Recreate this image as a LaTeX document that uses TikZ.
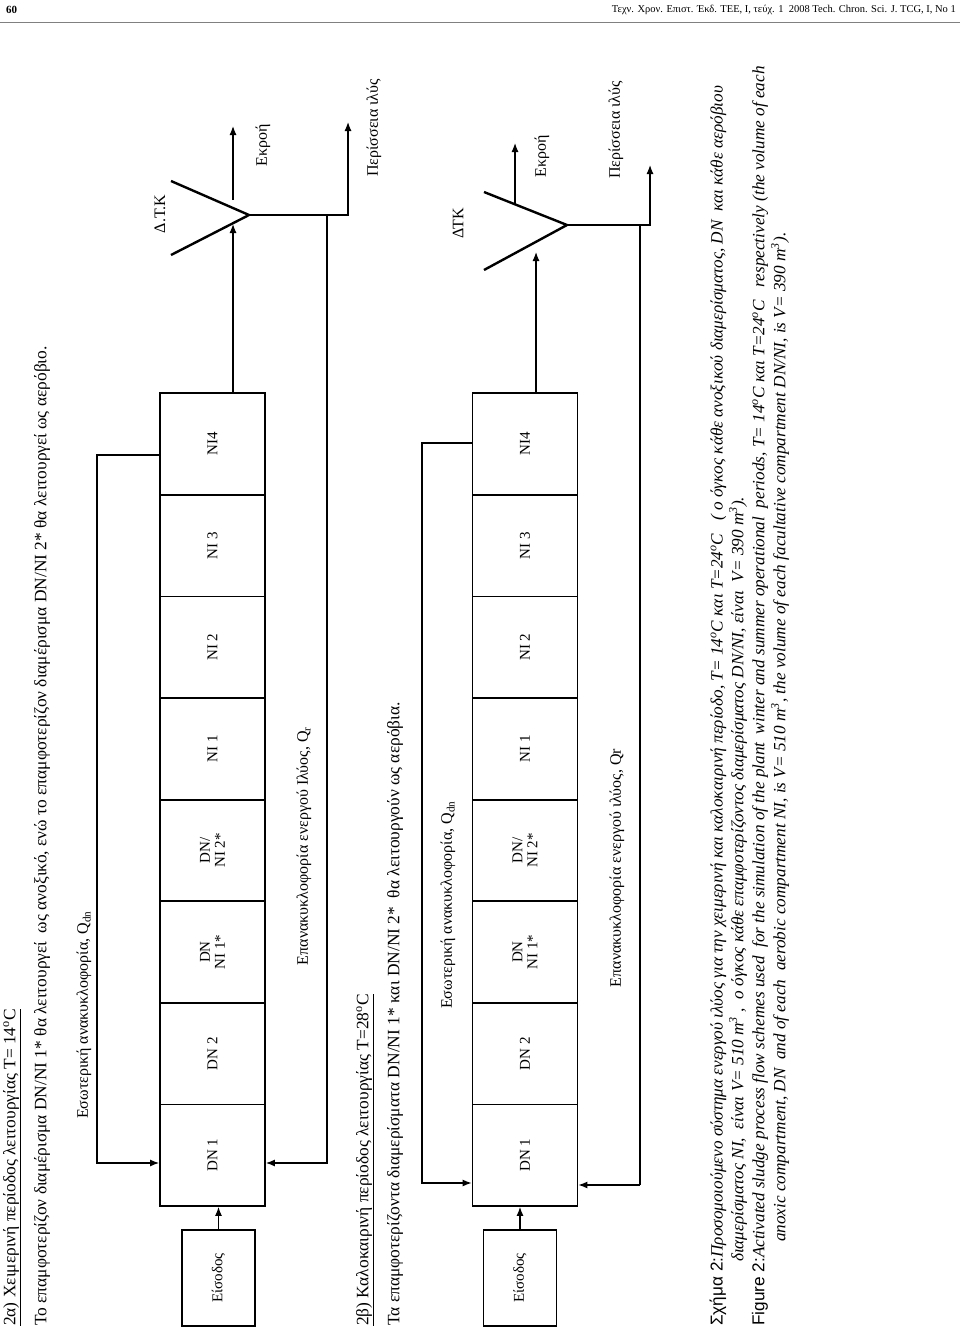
\documentclass[tikz,border=0pt]{standalone}
\usepackage{fontspec}
\setmainfont{Liberation Serif}
\newfontfamily\capsans{Liberation Sans}
\usepackage{tikz}
\usetikzlibrary{arrows.meta, positioning}

\begin{document}
\begin{tikzpicture}[
    x=1pt, y=-1pt,
    tank/.style={rectangle, draw, line width=1.8pt, rotate=90, minimum width=101.6pt, minimum height=105pt, inner sep=0pt, align=center, font=\fontsize{15}{15}\selectfont},
    feed/.style={rectangle, draw, line width=1.8pt, rotate=90, minimum width=96pt, minimum height=73pt, inner sep=0pt, font=\fontsize{15}{15}\selectfont},
    label/.style={rotate=90, inner sep=0pt, font=\fontsize{16}{16}\selectfont},
    head/.style={rotate=90, anchor=west, inner sep=0pt, font=\fontsize{17.4}{17.4}\selectfont},
    capt/.style={rotate=90, anchor=west, inner sep=0pt, font=\fontsize{17.2}{17.2}\selectfont\itshape},
    arrow/.style={-{Latex[length=9pt,width=7pt]}, line width=1.2pt},
    flow/.style={line width=1.2pt},
    weir/.style={line width=2.4pt}
]
    \useasboundingbox (0,0) rectangle (960,1331);

    % Page header
    \node[anchor=west, inner sep=0pt, font=\fontsize{11}{11}\selectfont\bfseries] (pnum) at (6,10) {60};
    \node[anchor=east, inner sep=0pt, font=\fontsize{10.5}{10.5}\selectfont] (pref) at (956,10)
        {Τεχν. Χρον. Επιστ. Έκδ. ΤΕΕ, Ι, τεύχ. 1\enspace 2008 Tech. Chron. Sci. J. TCG, I, No 1};
    \draw[gray, line width=1pt] (0,22) -- (960,22);

    % Scheme a: winter
    \node[head] (ta) at (12,1326) {\underline{2α) Χειμερινή περίοδος λειτουργίας T= 14\textsuperscript{o}C}};
    \node[head] (sa) at (42,1326) {Το επαμφοτερίζον διαμέρισμα DN/NI 1* θα λειτουργεί\ \ ως ανοξικό, ενώ το επαμφοτερίζον διαμέρισμα DN/NI 2* θα λειτουργεί ως αερόβιο.};
    \node[feed] (ina) at (218.5,1278) {Είσοδος};
    \foreach \lab [count=\i] in {DN 1, DN 2, {DN\\NI 1*}, {DN/\\NI 2*}, NI 1, NI 2, NI 3, NI4}
        \node[tank] (a\i) at (212.5,{1206-101.6*(\i-0.5)}) {\lab};
    \draw[arrow] (ina.east) -- (ina.east |- a1.west);
    % internal recirculation
    \coordinate (qa1) at (97,455);
    \coordinate (qa2) at (97,1163);
    \draw[arrow] (a8.north |- qa1) -- (qa1) -- (qa2) -- (a1.north |- qa2);
    \node[label] (lqa) at (84,1015) {Εσωτερική ανακυκλοφορία, Q\textsubscript{dn}};
    % clarifier
    \coordinate (va) at (249,215);
    \draw[weir] (171,181) -- (va) -- (171,255);
    \node[label] (dtka) at (160,214) {Δ.Τ.Κ};
    \draw[arrow] (a8.east -| 233,0) -- (233,224);
    \draw[arrow] (233,200) -- (233,126);
    \node[label] (effa) at (263,145) {Εκροή};
    \coordinate (wa) at (348,215);
    \draw[arrow] (va) -- (wa) -- (348,122);
    \node[label] (exa) at (374,128) {Περίσσεια ιλύς};
    \coordinate (ra1) at (327,215);
    \coordinate (ra2) at (327,1163);
    \draw[arrow] (ra1) -- (ra2) -- (a1.south |- ra2);
    \node[label] (lra) at (304,846) {Επανακυκλοφορία ενεργού Ιλύος, Q\textsubscript{r}};

    % Scheme b: summer
    \node[head] (tb) at (365,1326) {\underline{2β) Καλοκαιρινή περίοδος λειτουργίας T=28\textsuperscript{o}C}};
    \node[head] (sb) at (395,1326) {Τα επαμφοτερίζοντα διαμερίσματα DN/NI 1* και DN/NI 2*\ \ θα λειτουργούν ως αερόβια.};
    \node[feed] (inb) at (520,1278) {Είσοδος};
    \foreach \lab [count=\i] in {DN 1, DN 2, {DN\\NI 1*}, {DN/\\NI 2*}, NI 1, NI 2, NI 3, NI4}
        \node[tank] (b\i) at (525,{1206-101.6*(\i-0.5)}) {\lab};
    \draw[arrow] (inb.east) -- (inb.east |- b1.west);
    % internal recirculation
    \coordinate (qb1) at (422,443);
    \coordinate (qb2) at (422,1183);
    \draw[arrow] (b8.north |- qb1) -- (qb1) -- (qb2) -- (b1.north |- qb2);
    \node[label] (lqb) at (448,905) {Εσωτερική ανακυκλοφορία, Q\textsubscript{dn}};
    % clarifier
    \coordinate (vb) at (567,225);
    \draw[weir] (484,192) -- (vb) -- (484,270);
    \node[label] (dtkb) at (458,223) {ΔΤΚ};
    \draw[arrow] (b8.east -| 536,0) -- (536,252);
    \draw[arrow] (515,204) -- (515,143);
    \node[label] (effb) at (542,156) {Εκροή};
    \coordinate (wb) at (650,225);
    \draw[arrow] (vb) -- (wb) -- (650,165);
    \node[label] (exb) at (616,130) {Περίσσεια ιλύς};
    \coordinate (rb1) at (640,225);
    \coordinate (rb2) at (640,1185);
    \draw[flow] (rb1) -- (rb2);
    \draw[arrow] (rb2) -- (b1.south |- rb2);
    \node[label] (lrb) at (617,868) {Επανακυκλοφορία ενεργού ιλύος, Qr};

    % Caption
    \node[capt] (c1) at (718,1326) {{\upshape\capsans Σχήμα 2:}Προσομοιούμενο σύστημα ενεργού ιλύος για την χειμερινή και καλοκαιρινή περίοδο, T= 14\textsuperscript{o}C και T=24\textsuperscript{o}C\ \ \ ( ο όγκος κάθε ανοξικού διαμερίσματος, DN\ \ και κάθε αερόβιου};
    \node[capt] (c2) at (738,1262) {διαμερίσματος NI,\ \ είναι V= 510 m\textsuperscript{3} ,\ \ ο όγκος κάθε επαμφοτερίζοντος διαμερίσματος DN/NI, είναι\ \ V= 390 m\textsuperscript{3}).};
    \node[capt] (c3) at (760,1326) {{\upshape\capsans Figure 2:}Activated sludge process flow schemes used\ \ for the simulation of the plant\ \ winter and summer operational\ \ periods, T= 14\textsuperscript{o}C και T=24\textsuperscript{o}C\ \ \ respectively (the volume of each};
    \node[capt] (c4) at (780,1242) {anoxic compartment, DN\ \ and of each\ \ aerobic compartment NI, is V= 510 m\textsuperscript{3}, the volume of each facultative compartment DN/NI, is V= 390 m\textsuperscript{3}).};
\end{tikzpicture}
\end{document}
